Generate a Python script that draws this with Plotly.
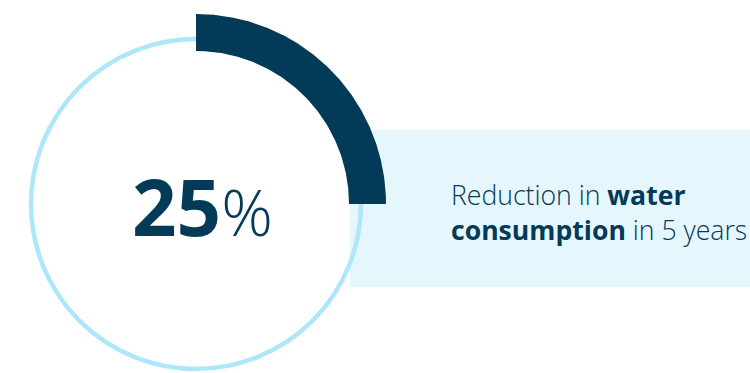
import numpy as np
import plotly.graph_objects as go

# Data
metric_value = [25]            # percent reduction
metric_total = [100]
caption_lines = [
    ("Reduction in ", "water"),
    ("consumption", " in 5 years"),
]

NAVY = "#033a58"
RING = "#aee6fc"
PANEL = "#e6f6fd"

W, H = 750, 373
cx_px, cy_px = 196, 204          # ring centre in page pixels
R_OUT, R_IN, R_RING = 190, 153, 165

fig = go.Figure()

# Progress arc: clockwise from 12 o'clock, sweep proportional to the value
frac = metric_value[0] / metric_total[0]
theta = np.linspace(np.pi / 2, np.pi / 2 - 2 * np.pi * frac, 200)
xs = np.concatenate([R_OUT * np.cos(theta), R_IN * np.cos(theta[::-1])])
ys = np.concatenate([R_OUT * np.sin(theta), R_IN * np.sin(theta[::-1])])
fig.add_trace(go.Scatter(
    x=xs, y=ys, mode="lines", fill="toself",
    fillcolor=NAVY, line=dict(width=0, color=NAVY),
    hoverinfo="skip", showlegend=False,
))

# Background panel behind the caption
fig.add_shape(type="rect", xref="x", yref="y",
              x0=350 - cx_px, x1=W - cx_px + 5,
              y0=cy_px - 287, y1=cy_px - 130,
              fillcolor=PANEL, line=dict(width=0), layer="below")

# Thin full ring
fig.add_shape(type="circle", xref="x", yref="y",
              x0=-R_RING, x1=R_RING, y0=-R_RING, y1=R_RING,
              line=dict(color=RING, width=4.5), layer="below")

# Big percentage label
fig.add_annotation(
    x=130 - cx_px, y=cy_px - 206, xref="x", yref="y",
    xanchor="left", yanchor="middle", showarrow=False,
    text=f"<b>{metric_value[0]}</b><span style='font-size:64px;font-weight:300'>%</span>",
    font=dict(family="Open Sans", size=78, color=NAVY),
)

# Two-line caption
(l1a, l1b), (l2a, l2b) = caption_lines
caption = (f"<span style='font-weight:300'>{l1a}</span><b>{l1b}</b><br>"
           f"<b>{l2a}</b><span style='font-weight:300'>{l2b}</span>")
fig.add_annotation(
    x=449 - cx_px, y=cy_px - 212, xref="x", yref="y",
    xanchor="left", yanchor="middle", showarrow=False, align="left",
    text=caption,
    font=dict(family="Open Sans", size=26.6, color=NAVY),
)

fig.update_layout(
    width=W, height=H,
    margin=dict(l=0, r=0, t=0, b=0),
    paper_bgcolor="white", plot_bgcolor="white",
    xaxis=dict(range=[-cx_px, W - cx_px], visible=False, fixedrange=True),
    yaxis=dict(range=[cy_px - H, cy_px], visible=False, fixedrange=True),
    showlegend=False,
)

fig.write_html("out.html")
